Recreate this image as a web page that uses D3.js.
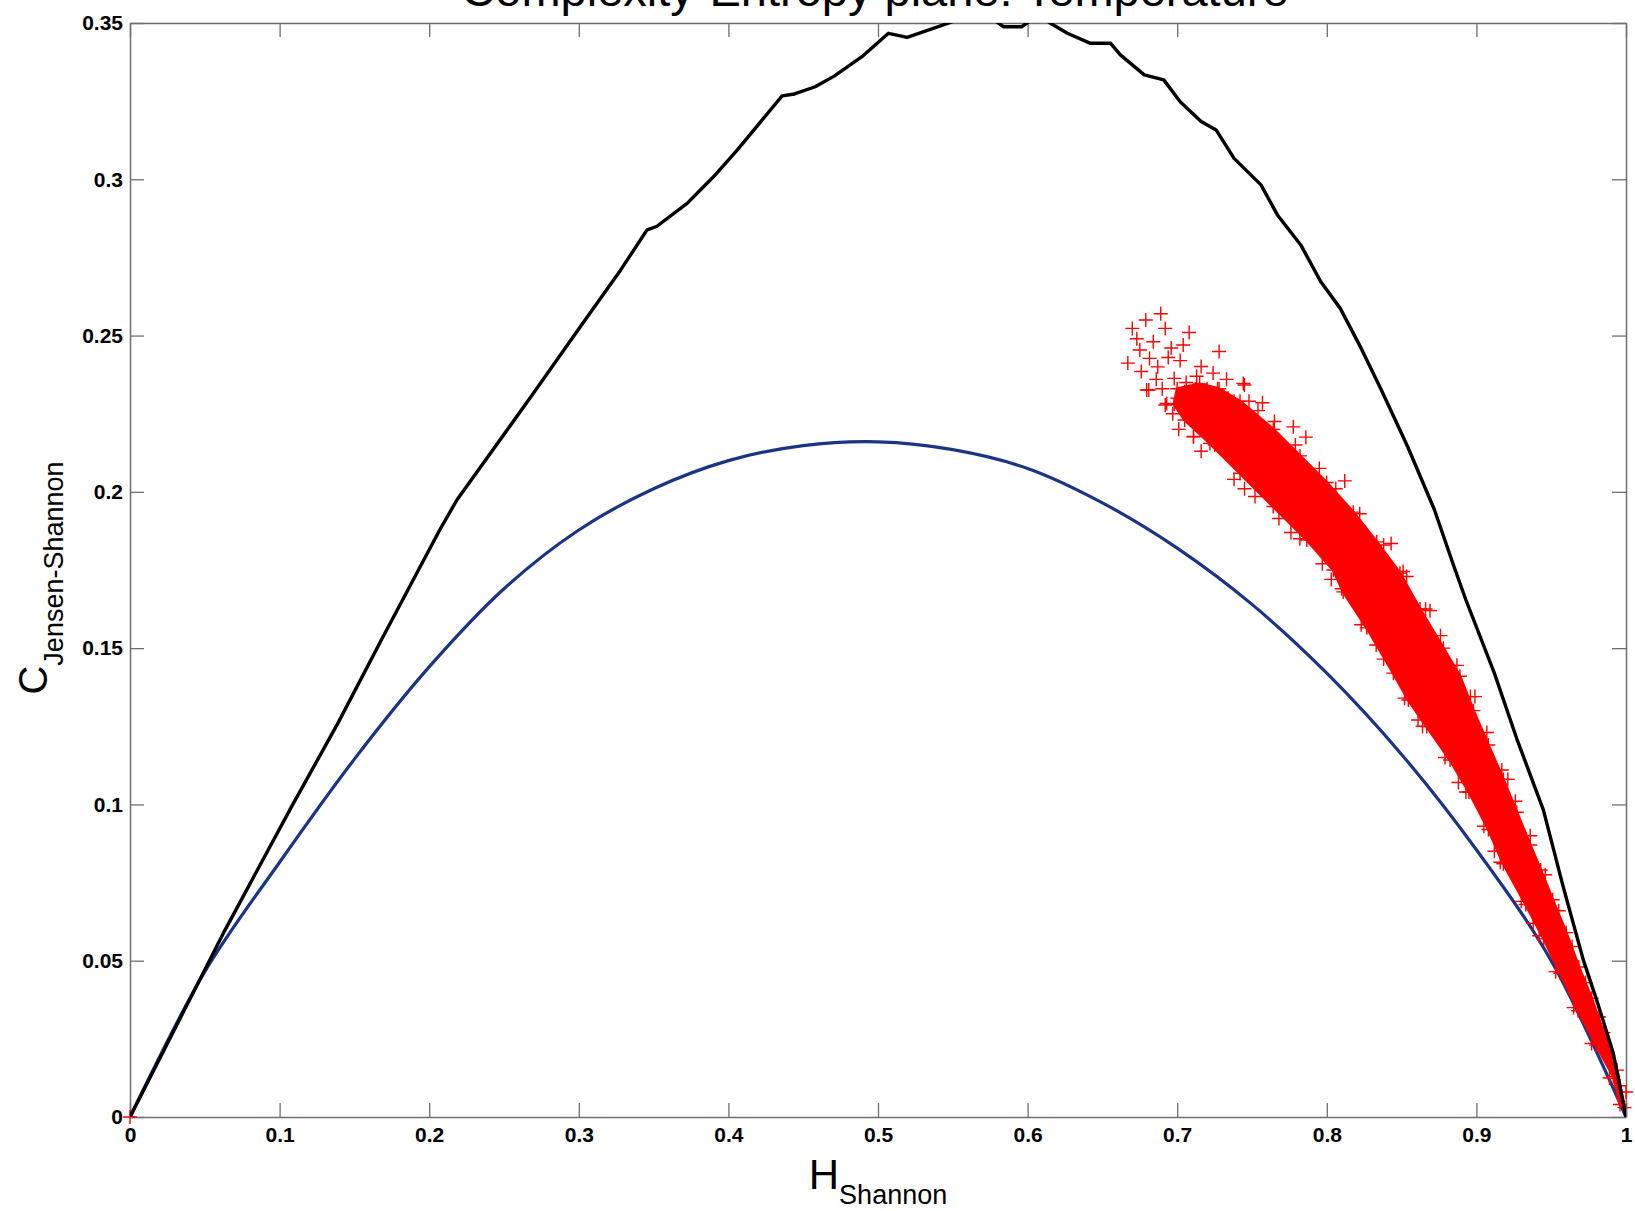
<!DOCTYPE html>
<html>
<head>
<meta charset="utf-8">
<script src="https://cdnjs.cloudflare.com/ajax/libs/d3/7.8.5/d3.min.js"></script>
<style>
body { margin: 0; background: #fff; }
text { font-family: "Liberation Sans", Arial, sans-serif; }
</style>
</head>
<body>
<svg></svg>
<script>
var width = 1635,
    height = 1211

// tick values
var xTicks = [0, 0.1, 0.2, 0.3, 0.4, 0.5, 0.6, 0.7, 0.8, 0.9, 1]
var yTicks = [0, 0.05, 0.1, 0.15, 0.2, 0.25, 0.3, 0.35]

// upper bound (max complexity), black
var maxCurve = [[0,0],[0.0635,0.0598],[0.108,0.0993],[0.139,0.126],[0.168,0.1526],[0.207,0.1878],[0.2185,0.1974],
  [0.268,0.2304],[0.301,0.2528],[0.328,0.271],[0.3456,0.2838],[0.352,0.2849],[0.3724,0.2923],[0.390,0.3008],
  [0.406,0.3094],[0.4359,0.3267],[0.4442,0.3273],[0.458,0.3296],[0.4707,0.3330],[0.490,0.3395],[0.507,0.3467],
  [0.5195,0.3454],[0.5474,0.350],
  [0.560,0.3525],[0.576,0.3515],[0.584,0.3488],[0.596,0.3488],[0.602,0.3508],[0.608,0.3525],[0.615,0.350],
  [0.6266,0.3467],[0.642,0.3435],[0.6555,0.3435],[0.662,0.3398],[0.678,0.3334],[0.691,0.3318],[0.702,0.3248],
  [0.716,0.3185],[0.726,0.3158],[0.738,0.3067],[0.756,0.2982],[0.767,0.2886],[0.7826,0.279],[0.796,0.2672],
  [0.809,0.2587],[0.823,0.2459],[0.836,0.2331],[0.854,0.2145],[0.872,0.1942],[0.885,0.1761],[0.893,0.1654],
  [0.912,0.142],[0.927,0.121],[0.9448,0.0982],[0.958,0.0737],[0.9715,0.0502],[0.9804,0.0374],[0.9915,0.0204],[1,0]]

// lower bound (min complexity), blue
var minH = [0, 0.05, 0.1, 0.15, 0.2, 0.25, 0.3, 0.35, 0.4, 0.45, 0.5, 0.55, 0.6, 0.65, 0.7, 0.75, 0.8, 0.85, 0.9, 0.95, 1]
var minC = [0, 0.0465, 0.0815, 0.1145, 0.1440, 0.1690, 0.1878, 0.2010, 0.2100, 0.2148, 0.2160, 0.2135, 0.2075, 0.1965,
  0.1820, 0.1640, 0.1420, 0.1160, 0.0855, 0.050, 0]

// dense part of the temperature cloud: outline, upper side then lower side
var cloudUpper = [[0.700,0.2330],[0.715,0.2345],[0.728,0.2330],[0.742,0.2290],[0.7642,0.2200],[0.7821,0.2115],
  [0.7999,0.2030],[0.8177,0.1935],[0.8334,0.1840],[0.8489,0.1740],[0.8623,0.1625],[0.8779,0.1500],[0.8890,0.1410],
  [0.8980,0.1300],[0.9080,0.1190],[0.9180,0.1080],[0.9270,0.0975],[0.9360,0.0870],[0.9430,0.0790],[0.9510,0.0695],
  [0.9600,0.0590],[0.9685,0.0480],[0.9770,0.0380],[0.9850,0.0270],[0.9940,0.0150],[0.9990,0.0030]]
var cloudLower = [[0.9960,0.0040],[0.9915,0.0130],[0.9800,0.0230],[0.9680,0.0340],[0.9560,0.0460],[0.9450,0.0570],
  [0.9330,0.0680],[0.9180,0.0810],[0.9080,0.0920],[0.8950,0.1040],[0.8824,0.1142],[0.8668,0.1249],[0.8545,0.1334],
  [0.8445,0.1420],[0.8267,0.1565],[0.8110,0.1680],[0.8044,0.1750],[0.7866,0.1846],[0.7642,0.1953],[0.742,0.2059],
  [0.7219,0.2155],[0.7050,0.2230],[0.6980,0.2280]]

// scattered markers of the cloud
var cloudPoints = [[0,0],[1,0.008],[0.996,0.01],
  [0.670,0.2523],[0.679,0.255],[0.689,0.257],[0.692,0.2523],[0.708,0.251],[0.667,0.2412],[0.675,0.2454],
  [0.6815,0.2427],[0.696,0.246],[0.681,0.2326],[0.692,0.2278],[0.728,0.2449],[0.698,0.2363],[0.716,0.2401],
  [0.745,0.2342],[0.711,0.2177],[0.676,0.2385],[0.684,0.248],[0.687,0.24],[0.702,0.242],[0.706,0.235],
  [0.690,0.233],[0.700,0.230],[0.713,0.237],[0.720,0.233],[0.724,0.238],[0.710,0.228],[0.718,0.226],
  [0.726,0.230],[0.733,0.236],[0.738,0.229],[0.704,0.247],[0.694,0.243],[0.686,0.236],[0.673,0.249],
  [0.7442,0.2347],[0.6796,0.2326],[0.693,0.2283],[0.7776,0.2208],[0.8534,0.1729],[0.7108,0.2176],
  [0.705,0.232],[0.712,0.233],[0.719,0.231],[0.727,0.233],[0.734,0.230],[0.740,0.227],[0.748,0.229],
  [0.754,0.226],[0.708,0.225],[0.715,0.2215],[0.722,0.224],[0.730,0.220],[0.697,0.225],[0.701,0.220],
  [0.742,0.219],[0.735,0.213],[0.725,0.215],[0.716,0.213],
  [0.765,0.2225],[0.779,0.2150],[0.795,0.2075],[0.806,0.2010],[0.822,0.1930],[0.838,0.1830],[0.851,0.1745],
  [0.866,0.1625],[0.876,0.1540],[0.887,0.1445],[0.896,0.1345],[0.907,0.1230],[0.917,0.1110],[0.926,0.1010],
  [0.936,0.0900],[0.946,0.0775],[0.955,0.0660],[0.964,0.0545],[0.973,0.0430],[0.982,0.0320],
  [0.738,0.2040],[0.752,0.1985],[0.768,0.1915],[0.782,0.1850],[0.797,0.1770],[0.810,0.1690],[0.823,0.1575],
  [0.838,0.1465],[0.852,0.1340],[0.864,0.1250],[0.879,0.1150],[0.893,0.1040],[0.905,0.0930],[0.916,0.0815],
  [0.930,0.0690],[0.942,0.0580],[0.953,0.0465],[0.965,0.0350],[0.977,0.0235],[0.989,0.0125],
  [0.757,0.2285],[0.786,0.2175],[0.812,0.2035],[0.843,0.1835],[0.869,0.1620],[0.899,0.1345],[0.921,0.1080],
  [0.745,0.2010],[0.776,0.1870],[0.803,0.1720],[0.833,0.1510],[0.861,0.1270],[0.888,0.1070],[0.912,0.0850],
  [0.938,0.0620]]

var svg = d3.select("svg").attr("width", width).attr("height", height)

var x = d3.scaleLinear().domain([0, 1]).range([130, 1626])
var y = d3.scaleLinear().domain([0, 0.35]).range([1117, 23])

var axisColor = "#6e6e6e"

svg.append("clipPath").attr("id", "plotClip")
  .append("rect")
  .attr("x", x(0)).attr("y", y(0.35))
  .attr("width", x(1) - x(0)).attr("height", y(0) - y(0.35))

var fmt = d3.format("~g")

function styleAxis(g) {
  g.select(".domain").attr("stroke", axisColor).attr("stroke-width", 1.5)
  g.selectAll(".tick line").attr("stroke", axisColor).attr("stroke-width", 1.3)
  g.selectAll(".tick text").attr("fill", "#000")
    .style("font-size", "21px").style("font-weight", "bold")
    .style("font-family", "'Liberation Sans', Arial, sans-serif")
}

svg.append("g").attr("transform", "translate(0," + y(0) + ")")
  .call(d3.axisBottom(x).tickValues(xTicks).tickFormat(fmt).tickSizeInner(-14).tickSizeOuter(0).tickPadding(10))
  .call(styleAxis)
svg.append("g").attr("transform", "translate(0," + y(0.35) + ")")
  .call(d3.axisTop(x).tickValues(xTicks).tickFormat("").tickSizeInner(-14).tickSizeOuter(0))
  .call(styleAxis)
svg.append("g").attr("transform", "translate(" + x(0) + ",0)")
  .call(d3.axisLeft(y).tickValues(yTicks).tickFormat(fmt).tickSizeInner(-14).tickSizeOuter(0).tickPadding(7))
  .call(styleAxis)
svg.append("g").attr("transform", "translate(" + x(1) + ",0)")
  .call(d3.axisRight(y).tickValues(yTicks).tickFormat("").tickSizeInner(-14).tickSizeOuter(0))
  .call(styleAxis)

var line = d3.line()
  .x(function(d) { return x(d[0]) })
  .y(function(d) { return y(d[1]) })

// blue lower curve
var minCurve = minH.map(function(h, i) { return [h, minC[i]] })
svg.append("path")
  .attr("d", line.curve(d3.curveCatmullRom)(minCurve))
  .attr("clip-path", "url(#plotClip)")
  .attr("fill", "none")
  .attr("stroke", "#1b3584")
  .attr("stroke-width", 3.2)

// red cloud: dense body
svg.append("path")
  .attr("d", line.curve(d3.curveLinearClosed)(cloudUpper.concat(cloudLower)))
  .attr("fill", "#ff0000")
  .attr("stroke", "#ff0000")
  .attr("stroke-width", 3)
  .attr("stroke-linejoin", "round")

// red cloud: "+" markers
var s = 7
svg.append("g").selectAll("path")
  .data(cloudPoints.concat(cloudUpper, cloudLower))
  .enter().append("path")
  .attr("d", function(d) {
    var cx = x(d[0]), cy = y(d[1])
    return "M" + (cx - s) + "," + cy + "H" + (cx + s) + "M" + cx + "," + (cy - s) + "V" + (cy + s)
  })
  .attr("stroke", "#ff0000")
  .attr("stroke-width", 1.4)
  .attr("fill", "none")

// black upper curve
svg.append("path")
  .attr("d", line.curve(d3.curveLinear)(maxCurve))
  .attr("clip-path", "url(#plotClip)")
  .attr("fill", "none")
  .attr("stroke", "#000")
  .attr("stroke-width", 3.4)
  .attr("stroke-linejoin", "round")

// title (cut off at the top of the picture, as in the original)
svg.append("text")
  .attr("x", 875).attr("y", 6)
  .attr("text-anchor", "middle")
  .style("font-size", "47px")
  .text("Complexity-Entropy plane: Temperature")

// axis labels
var xl = svg.append("text")
  .attr("x", 878).attr("y", 1189)
  .attr("text-anchor", "middle")
  .style("font-size", "42px")
xl.append("tspan").text("H")
xl.append("tspan").attr("dy", 15).style("font-size", "27px").text("Shannon")

var yl = svg.append("text")
  .attr("transform", "translate(47,578) rotate(-90)")
  .attr("text-anchor", "middle")
  .style("font-size", "40px")
yl.append("tspan").text("C")
yl.append("tspan").attr("dy", 16).style("font-size", "27px").text("Jensen-Shannon")
</script>
</body>
</html>
